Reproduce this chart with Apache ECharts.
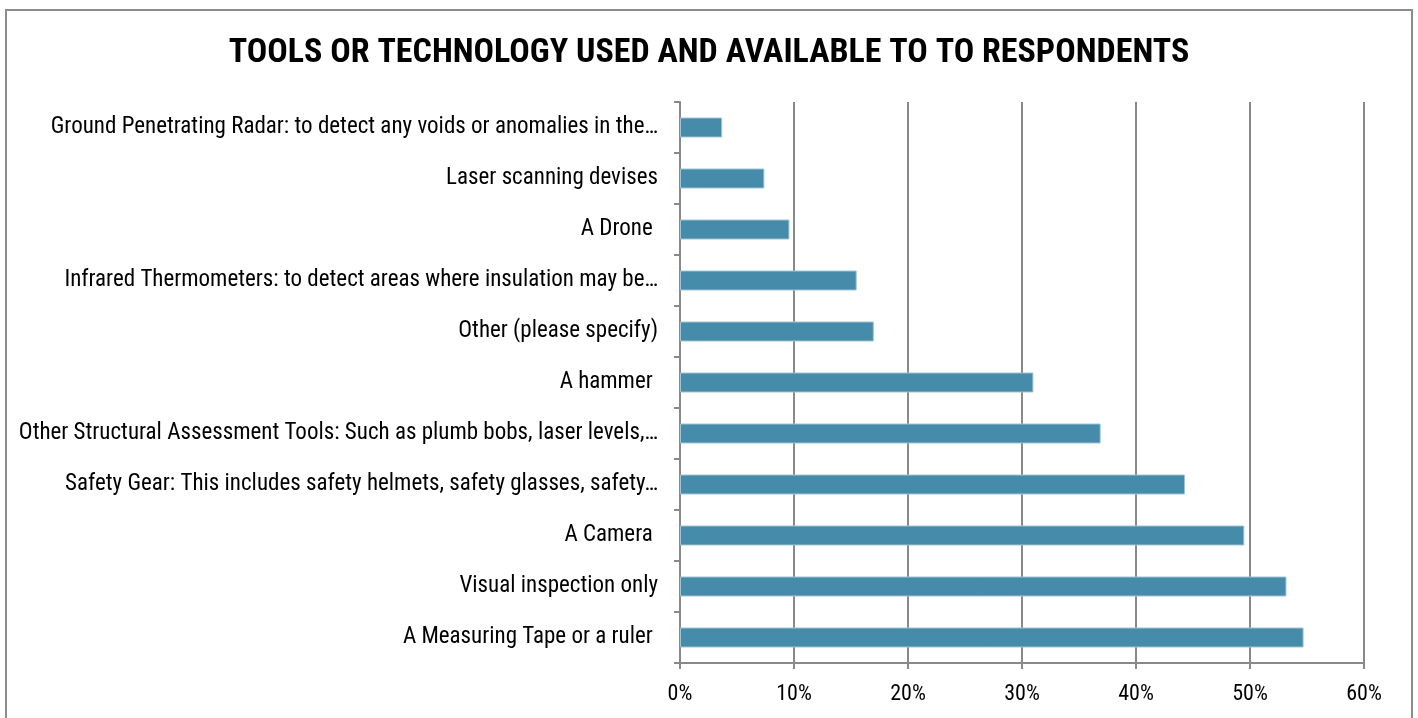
<!DOCTYPE html>
<html>
<head>
<meta charset="utf-8">
<script src="https://cdn.jsdelivr.net/npm/echarts@6/dist/echarts.min.js"></script>
<style>
  html, body { margin: 0; padding: 0; background: #fff; }
  #chart { width: 1418px; height: 718px; }
</style>
</head>
<body>
<div id="chart"></div>
<script>
// Survey answers, listed top to bottom
const categories = [
  'Ground Penetrating Radar: to detect any voids or anomalies in the…',
  'Laser scanning devises',
  'A Drone ',
  'Infrared Thermometers: to detect areas where insulation may be…',
  'Other (please specify)',
  'A hammer ',
  'Other Structural Assessment Tools: Such as plumb bobs, laser levels,…',
  'Safety Gear: This includes safety helmets, safety glasses, safety…',
  'A Camera ',
  'Visual inspection only',
  'A Measuring Tape or a ruler '
];
// Share of respondents, in percent
const shares = [3.7, 7.4, 9.6, 15.5, 17.0, 31.0, 36.9, 44.3, 49.5, 53.2, 54.7];
const xTicks = [0, 10, 20, 30, 40, 50, 60];

const FONT = '"Roboto Condensed", "Liberation Sans Narrow", "DejaVu Sans Condensed", sans-serif';

const chart = echarts.init(document.getElementById('chart'), null, { renderer: 'canvas' });
chart.setOption({
  animation: false,
  backgroundColor: '#ffffff',
  textStyle: { fontFamily: FONT },
  title: {
    text: 'TOOLS OR TECHNOLOGY USED AND AVAILABLE TO TO RESPONDENTS',
    left: 'center',
    top: 31,
    textStyle: { fontFamily: FONT, fontSize: 34, fontWeight: 'bold', color: '#000' }
  },
  graphic: [{
    type: 'rect',
    shape: { x: 6, y: 10, width: 1406, height: 720 },
    style: { fill: 'none', stroke: '#8c8c8c', lineWidth: 2 },
    silent: true
  }],
  grid: { left: 680, right: 54, top: 102, bottom: 55, containLabel: false },
  xAxis: {
    type: 'value',
    min: xTicks[0],
    max: xTicks[xTicks.length - 1],
    interval: 10,
    axisLine: { show: true, lineStyle: { color: '#898989', width: 2 } },
    axisTick: { show: true, length: 6, lineStyle: { color: '#898989', width: 2 } },
    splitLine: { show: true, lineStyle: { color: '#898989', width: 2 } },
    axisLabel: {
      formatter: v => v + '%',
      fontFamily: FONT, fontSize: 22, color: '#000', margin: 20
    }
  },
  yAxis: {
    type: 'category',
    inverse: true,
    data: categories,
    axisLine: { show: true, lineStyle: { color: '#898989', width: 2 } },
    axisTick: { show: true, length: 6, alignWithLabel: false, lineStyle: { color: '#898989', width: 2 } },
    axisLabel: { fontFamily: FONT, fontSize: 23, color: '#000', margin: 22, padding: [4, 0, 0, 0] },
    splitLine: { show: false }
  },
  series: [{
    type: 'bar',
    data: shares,
    barWidth: 20,
    itemStyle: { color: '#468BA9', borderColor: '#9fc4d4', borderWidth: 1 }
  }]
});
</script>
</body>
</html>
